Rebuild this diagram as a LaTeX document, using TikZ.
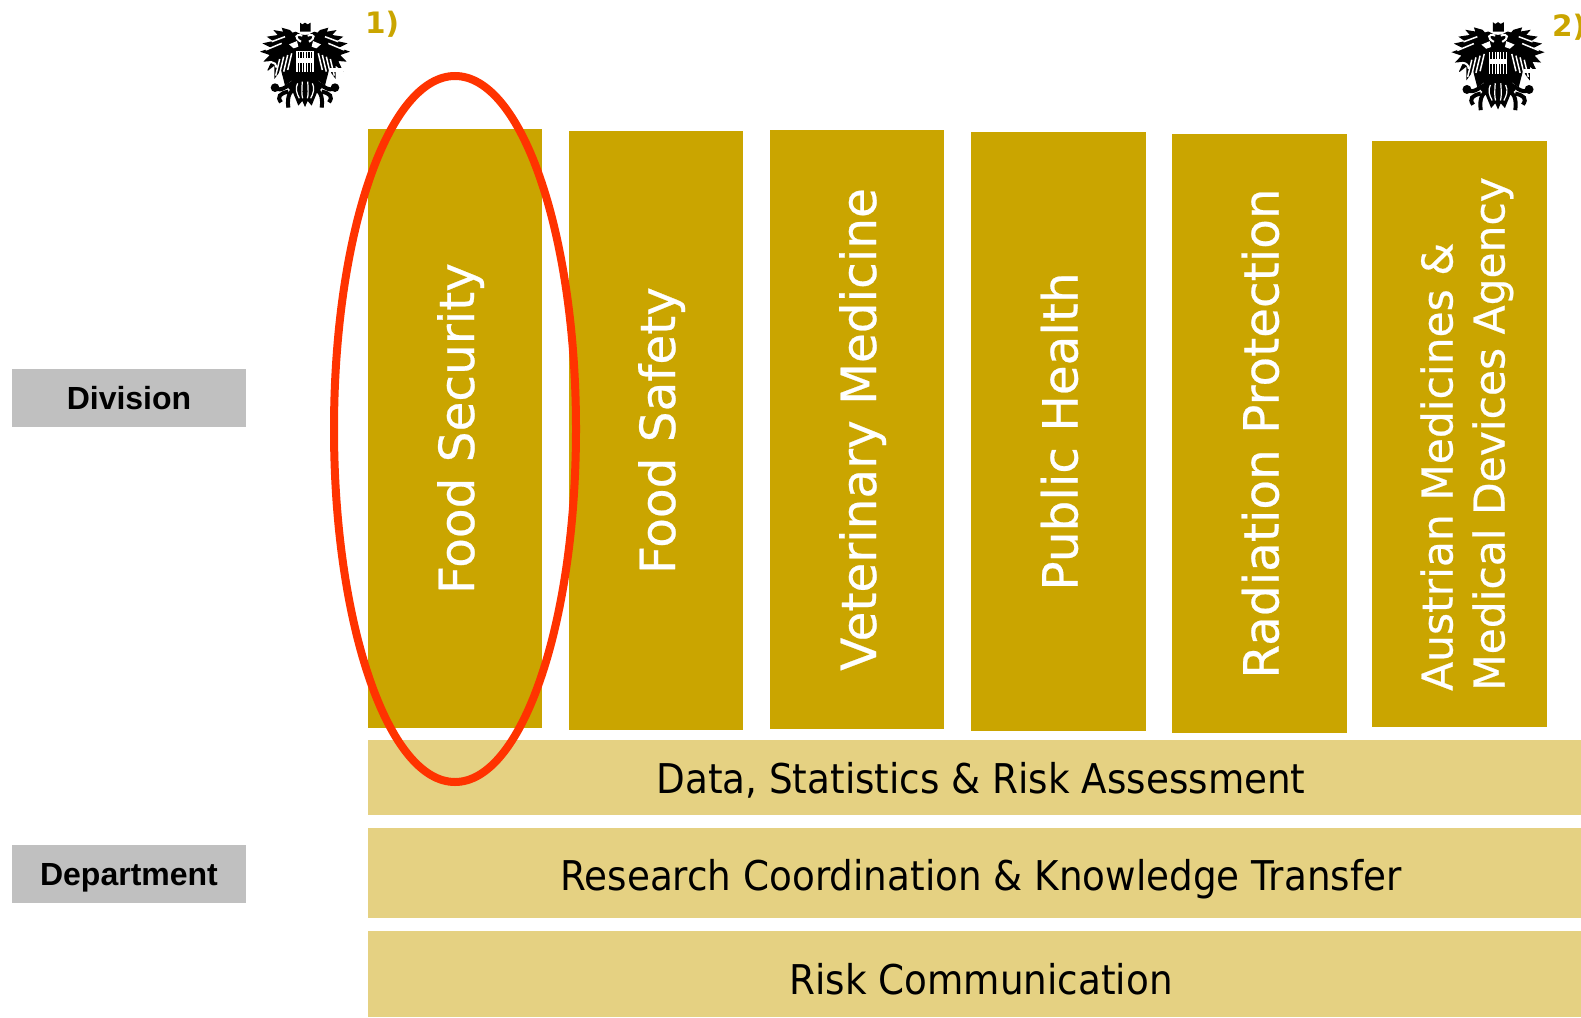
\documentclass[tikz,border=0pt]{standalone}
\usepackage{fontspec}
\setmainfont[FakeStretch=0.91]{DejaVu Sans}
\newfontfamily\divfont[FakeBold=0.5]{DejaVu Sans}
\newfontfamily\notefont{DejaVu Sans}
\newfontfamily\labelfont{Liberation Sans}
\usetikzlibrary{positioning, shapes.geometric}
\definecolor{divgold}{HTML}{CAA500}
\definecolor{deptgold}{HTML}{E5D182}
\definecolor{tagred}{HTML}{FF3300}
\definecolor{taggrey}{HTML}{C0C0C0}

\tikzset{
    eagle/.pic={
        \foreach \s in {1,-1} {
            \begin{scope}[xscale=\s]
                % wing
                \fill[black] (18,-75) -- (45,-105) -- (70,-112) -- (66,-100) -- (95,-105) -- (82,-90) -- (115,-85) -- (96,-72) -- (128,-65) -- (102,-52) -- (135,-40) -- (106,-30) -- (125,-10) -- (100,-12) -- (115,20) -- (92,2) -- (92,42) -- (72,15) -- (60,62) -- (30,40) -- (0,40) -- (0,-60) -- cycle;
                \foreach \a/\b in {40/-35, 52/-30, 64/-25, 76/-18} {
                    \draw[white, line width=1.5pt] (\a,\b) -- ++(12,50);
                }
                \draw[white, line width=1.5pt] (60,-85) -- (100,-70);
                \draw[white, line width=1.5pt] (70,-65) -- (118,-45);
                % head
                \fill[black] (0,-90) -- (12,-92) -- (28,-100) -- (42,-96) -- (30,-85) -- (22,-60) -- (0,-55) -- cycle;
                \draw[white, line width=2pt] (8,-88) .. controls (30,-96) and (32,-80) .. (12,-70);
                \fill[white] (24,-72) -- (48,-62) -- (34,-50) -- (20,-55) -- cycle;
                % tail and leg
                \fill[black] (0,20) -- (35,35) -- (50,70) -- (35,85) -- (20,122) -- (8,108) -- (0,126) -- cycle;
                \draw[black, line width=4pt] (25,50) .. controls (50,55) and (70,85) .. (90,68);
                \draw[black, line width=4pt] (22,75) .. controls (45,70) and (55,95) .. (50,128);
                \draw[black, line width=4pt] (50,80) .. controls (75,85) and (85,95) .. (72,112);
                \fill[black] (90,68) circle (13);
                \draw[white, line width=1.2pt] (8,50) .. controls (10,75) and (10,90) .. (7,100);
                \draw[white, line width=1.2pt] (22,55) .. controls (30,70) and (25,85) .. (17,100);
            \end{scope}
        }
        % crown
        \fill[black] (-15,-127) -- (-8,-122) -- (0,-127) -- (8,-122) -- (17,-127) -- (17,-100) -- (-15,-100) -- cycle;
        % shield
        \fill[white] (-26,-42) rectangle (26,22);
        \foreach \x in {-22,-14,-6,2,10,18} {
            \fill[black] (\x,-40) rectangle ++(4,62);
        }
        \fill[white] (-26,-20) rectangle (26,-5);
        % hammer and sickle
        \fill[white] (75,8) rectangle (115,20);
        \draw[white, line width=2pt] (-85,8) arc (0:-250:17);
    }
}

\begin{document}
\begin{tikzpicture}[
    x=1pt, y=-1pt,
    division/.style={rectangle, fill=divgold, text=white, rotate=90, align=center, minimum width=#1, minimum height=174.5pt, inner sep=0pt, text height=38pt, text depth=0pt, font=\divfont\fontsize{48.5}{52}\selectfont},
    department/.style={rectangle, fill=deptgold, anchor=north west, minimum width=1213pt, inner sep=0pt},
    bartext/.style={text=black, inner sep=0pt, text height=30pt, text depth=0pt, font=\fontsize{41}{49}\selectfont},
    sidetag/.style={rectangle, fill=taggrey, text=black, minimum width=234pt, minimum height=58pt, inner sep=0pt, text height=23pt, text depth=0pt, font=\labelfont\fontsize{32}{38}\selectfont\bfseries},
    footnote/.style={text=divgold, inner sep=0pt, font=\notefont\fontsize{29.5}{34}\selectfont\bfseries}
]
\useasboundingbox (0,0) rectangle (1581,1017);

% Side labels
\node[sidetag] (division) at (129,398) {Division};
\node[sidetag] (department) at (129,874) {Department};

% Coats of arms
\pic[scale=0.333] (arms1) at (305,65) {eagle};
\pic[scale=0.345] (arms2) at (1498,66) {eagle};
\node[footnote] (note1) at (382,24) {1)};
\node[footnote] (note2) at (1569,27) {2)};

% Divisions
\node[division=599pt] (security) at (455,428.5) {Food Security};
\node[division=599pt] (safety) at (656,430.5) {Food Safety};
\node[division=599pt] (veterinary) at (857,429.5) {Veterinary Medicine};
\node[division=599pt] (health) at (1058.5,431.5) {Public Health};
\node[division=599pt] (radiation) at (1259.5,433.5) {Radiation Protection};
\node[division=586pt, align=left, text height=90pt, font=\divfont\fontsize{42.4}{52}\selectfont] (agency) at (1459.5,434) {Austrian Medicines \&\\Medical Devices Agency};

% Departments
\node[department, minimum height=75pt] (data) at (368,740) {};
\node[department, minimum height=90pt] (research) at (368,828) {};
\node[department, minimum height=86pt] (risk) at (368,931) {};
\node[bartext] (datatext) at (981,778) {Data, Statistics \& Risk Assessment};
\node[bartext] (researchtext) at (981,875) {Research Coordination \& Knowledge Transfer};
\node[bartext] (risktext) at (981,979) {Risk Communication};

% Highlight
\node[ellipse, draw=tagred, line width=8pt, minimum width=242pt, minimum height=706pt, inner sep=0pt] (focus) at (455,429) {};

\end{tikzpicture}
\end{document}
